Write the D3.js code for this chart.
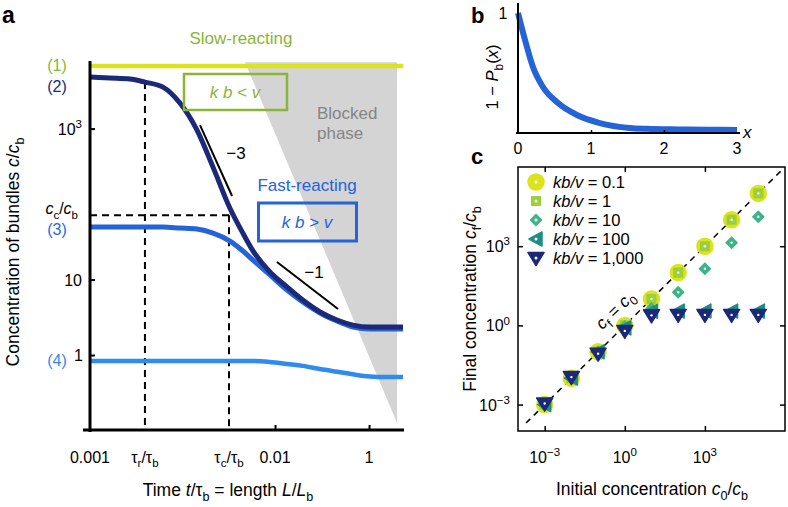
<!DOCTYPE html>
<html><head><meta charset="utf-8">
<script src="https://cdn.jsdelivr.net/npm/d3@7"></script>
<style>
body{margin:0;background:#fff}
svg{display:block}
text{font-family:"Liberation Sans",Arial,Helvetica,sans-serif;white-space:pre}
</style>
</head><body>
<svg id="chart" width="788" height="507"></svg>
<script>
// ---------- Panel a data ----------
const tGrid   = [1.16e-6,3.08e-6,8.2e-6,1.71e-5,4.14e-5,9.5e-5,2.19e-4,4.8e-4,1.10e-3,2.08e-3,3.40e-3,7.8e-3,0.018,0.039,0.091,0.208,0.457,1.05,2.30,5.28];
const curve1  = [6730,6730,6730,6730,6730,6730,6730,6730,6730,6730,6730,6730,6730,6730,6730,6730,6730,6730,6730,6730];
const curve2  = [4810,4670,4530,4130,3550,2180,955,309,88,41,24,12.6,8.0,5.35,3.72,2.91,2.49,2.35,2.35,2.35];
const curve3  = [49.6,49.6,49.6,49.6,49.6,48.1,46.6,41.3,32.4,23.9,18.1,11.5,7.26,5.04,3.60,2.82,2.35,2.21,2.21,2.21];
const curve4  = [0.833,0.833,0.833,0.833,0.833,0.833,0.833,0.833,0.833,0.833,0.833,0.808,0.760,0.718,0.652,0.600,0.555,0.520,0.510,0.510];
const blockedPhase = [[2.3e-3,7600],[3.95,7600],[3.95,0.126]];
const slopeMinus3 = [[2.54e-4,1112],[1.22e-3,128]];
const slopeMinus1 = [[0.0110,17.1],[0.219,4.07]];
const tauR = 1.71e-5, tauC = 1.05e-3, cC = 71, cAtTauR = 4130;
const aXTickVals = [1.16e-6, 0.01, 1];
const aXTickLabels = ["0.001","0.01","1"];
const aYTickVals = [1000, 10, 1];

// ---------- Panel b data ----------
const bX = [0,0.096,0.205,0.342,0.548,0.808,1.12,1.53,1.77,2.2,2.6,3.0];
const bY = [1.0,0.775,0.55,0.383,0.25,0.15,0.083,0.042,0.035,0.03,0.027,0.025];
const bXTicks = [0,1,2,3];

// ---------- Panel c data ----------
const c0 = [1e-3,1e-2,1e-1,1,10,100,1e3,1e4,1e5];
const cf_01   = [1e-3,1e-2,1e-1,1,10,100,1e3,1e4,1e5];
const cf_1    = [1e-3,1e-2,1e-1,1,10,100,1e3,1e4,1e5];
const cf_10   = [1e-3,1e-2,1e-1,0.9,4.4,18,141,1350,13000];
const cf_100  = [1e-3,1e-2,1e-1,0.8,3.4,3.5,3.5,3.5,3.5];
const cf_1000 = [1.1e-3,1.1e-2,0.085,0.62,2.4,2.5,2.5,2.5,2.5];
const legendLabels = ["0.1","1","10","100","1,000"];
const cTickVals = [1e-3,1,1e3];
const cTickExps = ["\u22123","0","3"];
const diagonal = [[10**-3.7,10**-3.7],[10**5.85,10**5.85]];

// ---------- colours ----------
const YEL="#dce31c", LGR="#9bcf3c", GRN="#3db489", TEAL="#1f8d82", NAVY="#1c2878";
const BLUE="#2563d8", SKY="#2f8ced", SLOWTXT="#8ab536";

const svg = d3.select("#chart");
svg.append("rect").attr("width",788).attr("height",507).attr("fill","#fff");

function rich(parent, x, y, segs, opt={}) {
  const fs = opt.size || 16;
  const t = parent.append("text").attr("x", x).attr("y", y)
    .attr("font-size", fs).attr("fill", opt.color || "#000")
    .attr("text-anchor", opt.anchor || "start");
  if (opt.rotate != null) t.attr("transform", `rotate(${opt.rotate},${x},${y})`);
  if (opt.weight) t.attr("font-weight", opt.weight);
  let cur = 0;
  segs.forEach(s => {
    const txt = Array.isArray(s) ? s[0] : s;
    const st = Array.isArray(s) ? (s[1]||"") : "";
    let shift = 0, size = fs;
    if (st.includes("sub")) { shift = 0.28*fs; size = 0.72*fs; }
    if (st.includes("sup")) { shift = -0.42*fs; size = 0.72*fs; }
    const sp = t.append("tspan").text(txt).attr("font-size", size);
    if (shift - cur !== 0) sp.attr("dy", shift - cur);
    cur = shift;
    if (st.includes("i")) sp.attr("font-style", "italic");
  });
  if (opt.italic) t.attr("font-style","italic");
  return t;
}

// =============== PANEL A ===============
const xa = d3.scaleLog().domain([1.16e-6, 5.28]).range([90, 403]);
const ya = d3.scaleLog().domain([0.1, 7400]).range([430.5, 63]);
const ga = svg.append("g");
const lineA = d3.line().x(d=>xa(d[0])).y(d=>ya(d[1]));

ga.append("path").attr("d", lineA(blockedPhase)+"Z").attr("fill","#d4d4d4");

// dashed guides
const dash = "7,5";
ga.append("line").attr("x1",xa(tauR)).attr("x2",xa(tauR)).attr("y1",ya(cAtTauR)).attr("y2",ya(0.1))
  .attr("stroke","#000").attr("stroke-width",2).attr("stroke-dasharray",dash);
ga.append("line").attr("x1",xa(tauC)).attr("x2",xa(tauC)).attr("y1",ya(cC)).attr("y2",ya(0.1))
  .attr("stroke","#000").attr("stroke-width",2).attr("stroke-dasharray",dash);
ga.append("line").attr("x1",xa(1.16e-6)).attr("x2",xa(tauC)).attr("y1",ya(cC)).attr("y2",ya(cC))
  .attr("stroke","#000").attr("stroke-width",2).attr("stroke-dasharray",dash);

const smooth = d3.line().x(d=>xa(d[0])).y(d=>ya(d[1])).curve(d3.curveMonotoneX);
function curve(vals, color, w) {
  ga.append("path").attr("d", smooth(tGrid.map((t,i)=>[t, vals[i]])))
    .attr("fill","none").attr("stroke",color).attr("stroke-width",w).attr("stroke-linecap","butt");
}
curve(curve4, SKY, 4.5);
curve(curve3, BLUE, 5);
curve(curve2, NAVY, 5);
curve(curve1, YEL, 4.5);

// slope lines
[slopeMinus3, slopeMinus1].forEach(s => {
  ga.append("path").attr("d", lineA(s)).attr("stroke","#000").attr("stroke-width",2).attr("fill","none");
});
rich(ga, 236, 159, ["\u22123"], {size:17, anchor:"middle"});
rich(ga, 314, 278, ["\u22121"], {size:17, anchor:"middle"});

// axes
ga.append("line").attr("x1",90).attr("x2",90).attr("y1",61).attr("y2",432).attr("stroke","#000").attr("stroke-width",3);
ga.append("line").attr("x1",83).attr("x2",404).attr("y1",430).attr("y2",430).attr("stroke","#000").attr("stroke-width",3);
const axA = ga.append("g").attr("transform","translate(0,430)")
  .call(d3.axisBottom(xa).tickValues([0.01,1]).tickSize(-5).tickFormat(""));
axA.select(".domain").remove();
axA.selectAll("line").attr("stroke-width",2);
const ayA = ga.append("g").attr("transform","translate(90,0)")
  .call(d3.axisLeft(ya).tickValues(aYTickVals).tickSize(-5).tickFormat(""));
ayA.select(".domain").remove();
ayA.selectAll("line").attr("stroke-width",2);

aXTickVals.forEach((v,i)=> rich(ga, xa(v), 463, [aXTickLabels[i]], {anchor:"middle"}));
rich(ga, xa(tauR), 463, [["\u03c4"],["r","sub"],["/\u03c4"],["b","sub"]], {anchor:"middle"});
rich(ga, xa(tauC), 463, [["\u03c4"],["c","sub"],["/\u03c4"],["b","sub"]], {anchor:"middle"});
rich(ga, 82, ya(1000)+6, [["10"],["3","sup"]], {anchor:"end"});
rich(ga, 82, ya(10)+6, ["10"], {anchor:"end"});
rich(ga, 83, ya(1)+6, ["1"], {anchor:"end"});
rich(ga, 78, ya(cC)-1, [["c","i"],["c","sub"],["/"],["c","i"],["b","sub"]], {anchor:"end"});

// curve labels
rich(ga, 57, 71, ["(1)"], {anchor:"middle", color:SLOWTXT});
rich(ga, 57, 92, ["(2)"], {anchor:"middle", color:NAVY});
rich(ga, 57, 235, ["(3)"], {anchor:"middle", color:"#2a6ad8"});
rich(ga, 57, 366, ["(4)"], {anchor:"middle", color:"#3a86e3"});

// titles
rich(ga, 228, 496, ["Time ",["t","i"],"/\u03c4",["b","sub"]," = length ",["L","i"],"/",["L","i"],["b","sub"]], {anchor:"middle", size:17.5});
rich(ga, 19, 252, ["Concentration of bundles ",["c","i"],"/",["c","i"],["b","sub"]], {anchor:"middle", size:17.5, rotate:-90});

// annotations
rich(ga, 241, 44, ["Slow-reacting"], {anchor:"middle", size:17, color:SLOWTXT});
ga.append("rect").attr("x",184).attr("y",74).attr("width",103).attr("height",36)
  .attr("fill","none").attr("stroke",SLOWTXT).attr("stroke-width",2.5);
rich(ga, 235, 98, ["k b < v"], {anchor:"middle", size:17, color:SLOWTXT, italic:true});
rich(ga, 317, 119, ["Blocked"], {size:17, color:"#858585"});
rich(ga, 317, 139, ["phase"], {size:17, color:"#858585"});
rich(ga, 307, 191, ["Fast-reacting"], {anchor:"middle", size:17, color:BLUE});
ga.append("rect").attr("x",258.5).attr("y",203).attr("width",98).attr("height",38)
  .attr("fill","none").attr("stroke",BLUE).attr("stroke-width",3);
rich(ga, 307, 228, ["k b > v"], {anchor:"middle", size:17, color:BLUE, italic:true});

rich(ga, 2, 23, ["a"], {size:23, weight:"bold"});

// =============== PANEL B ===============
const xb = d3.scaleLinear().domain([0,3]).range([518,737]);
const yb = d3.scaleLinear().domain([0,1]).range([133,13]);
const gb = svg.append("g");
gb.append("path").attr("d", d3.line().x((d,i)=>xb(bX[i])).y((d,i)=>yb(bY[i])).curve(d3.curveMonotoneX)(bX))
  .attr("fill","none").attr("stroke",BLUE).attr("stroke-width",6);
gb.append("line").attr("x1",518).attr("x2",518).attr("y1",3).attr("y2",134).attr("stroke","#000").attr("stroke-width",2);
gb.append("line").attr("x1",516).attr("x2",740).attr("y1",133).attr("y2",133).attr("stroke","#000").attr("stroke-width",2);
const axB = gb.append("g").attr("transform","translate(0,133)")
  .call(d3.axisBottom(xb).tickValues([1,2]).tickSize(-3).tickFormat(""));
axB.select(".domain").remove();
axB.selectAll("line").attr("stroke-width",1.5);
bXTicks.forEach(v => rich(gb, xb(v), 154, [String(v)], {anchor:"middle"}));
rich(gb, 503, 19, ["1"], {anchor:"middle"});
rich(gb, 743, 138, [["x","i"]], {size:17});
rich(gb, 498, 77, ["1 \u2212 ",["P","i"],["b","sub"],"(",["x","i"],")"], {anchor:"middle", size:16.5, rotate:-90});
rich(gb, 471, 23, ["b"], {size:22, weight:"bold"});

// =============== PANEL C ===============
const xc = d3.scaleLog().domain([1e-4,1e6]).range([518,785]);
const yc = d3.scaleLog().domain([1e-4,1e6]).range([431,167]);
const gc = svg.append("g");
gc.append("rect").attr("x",518).attr("y",167).attr("width",267).attr("height",264)
  .attr("fill","none").attr("stroke","#000").attr("stroke-width",1.5);
[[431,d3.axisBottom(xc)],[167,d3.axisTop(xc)]].forEach(([yy,ax])=>{
  const g = gc.append("g").attr("transform",`translate(0,${yy})`).call(ax.tickValues(cTickVals).tickSize(-5).tickFormat(""));
  g.select(".domain").remove(); g.selectAll("line").attr("stroke-width",1.5);
});
[[518,d3.axisLeft(yc)],[785,d3.axisRight(yc)]].forEach(([xx,ax])=>{
  const g = gc.append("g").attr("transform",`translate(${xx},0)`).call(ax.tickValues(cTickVals).tickSize(-5).tickFormat(""));
  g.select(".domain").remove(); g.selectAll("line").attr("stroke-width",1.5);
});
cTickVals.forEach((v,i)=>{
  rich(gc, xc(v), 463, [["10"],[cTickExps[i],"sup"]], {anchor:"middle"});
  rich(gc, 510, yc(v)+6, [["10"],[cTickExps[i],"sup"]], {anchor:"end"});
});

// diagonal
gc.append("path").attr("d", d3.line().x(d=>xc(d[0])).y(d=>yc(d[1]))(diagonal))
  .attr("stroke","#000").attr("stroke-width",1.5).attr("stroke-dasharray","6,5").attr("fill","none");
rich(gc, 619, 314, [["c","i"],["f","sub"]," = ",["c","i"],["0","sub"]], {anchor:"middle", size:17, rotate:-44});

// markers
const markers = [
  {vals:cf_01,   color:YEL,  path:"M0,-8A8,8 0 1,1 0,8A8,8 0 1,1 0,-8Z"},
  {vals:cf_1,    color:LGR,  path:"M-4.3,-4.3H4.3V4.3H-4.3Z"},
  {vals:cf_10,   color:GRN,  path:"M0,-5.5L5.5,0L0,5.5L-5.5,0Z"},
  {vals:cf_100,  color:TEAL, path:"M-7,0L6,-7L6,7Z"},
  {vals:cf_1000, color:NAVY, path:"M-8,-5.5L8,-5.5L0,7.5Z"}
];
markers.forEach(m=>{
  const g = gc.append("g");
  c0.forEach((x,i)=>{
    const gg = g.append("g").attr("transform",`translate(${xc(x)},${yc(m.vals[i])})`);
    gg.append("path").attr("d",m.path).attr("fill",m.color).attr("stroke",m.color).attr("stroke-width",1.5).attr("stroke-linejoin","round");
    gg.append("circle").attr("r",1.2).attr("fill","#fff");
  });
});

// legend
markers.forEach((m,i)=>{
  const y = 182 + i*19;
  const gg = gc.append("g").attr("transform",`translate(536,${y})`);
  gg.append("path").attr("d",m.path).attr("fill",m.color).attr("stroke",m.color).attr("stroke-width",1.5).attr("stroke-linejoin","round");
  gg.append("circle").attr("r",1.5).attr("fill","#fff");
  rich(gc, 553, y+6, [["kb","i"],["/","i"],["v","i"]," = "+legendLabels[i]], {size:16.5});
});

rich(gc, 652, 495, ["Initial concentration ",["c","i"],["0","sub"],"/",["c","i"],["b","sub"]], {anchor:"middle", size:17.5});
rich(gc, 476, 299, ["Final concentration ",["c","i"],["f","sub"],"/",["c","i"],["b","sub"]], {anchor:"middle", size:17.5, rotate:-90});
rich(gc, 471, 164, ["c"], {size:22, weight:"bold"});
</script>
</body></html>
